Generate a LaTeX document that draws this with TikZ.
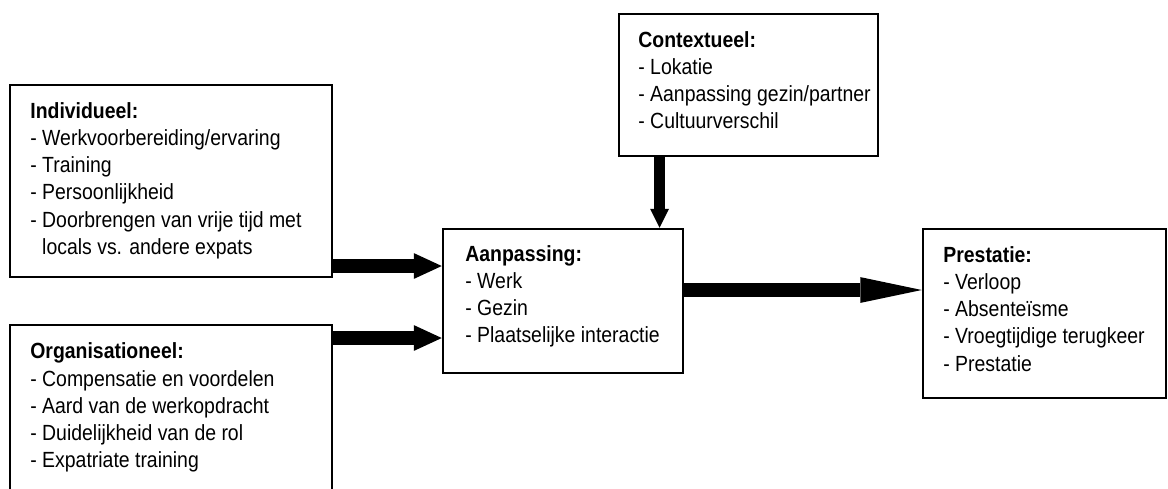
\documentclass[tikz,border=0pt]{standalone}
\usepackage{fontspec}
\setmainfont{Liberation Sans}[FakeStretch=0.885]
\usetikzlibrary{arrows.meta}
\tikzset{
    box/.style={draw, rectangle, line width=1.45pt, inner sep=0pt},
    txt/.style={anchor=north west, align=left, inner sep=0pt, font=\fontsize{12.5pt}{15.5pt}\selectfont}
}

\begin{document}
\begin{tikzpicture}[x=0.02cm, y=-0.02cm,
    sidearrow/.style={line width=8.5pt, -{Triangle[length=15.9pt, width=14.7pt, line width=0pt]}},
    downarrow/.style={line width=6.2pt, -{Triangle[length=10.8pt, width=10.8pt, line width=0pt]}},
    mainarrow/.style={line width=7.9pt, -{Triangle[length=35pt, width=14.7pt, line width=0pt]}}]

\useasboundingbox (0,0) rectangle (1168,488);

% boxes
\node [box, minimum width=6.44cm, minimum height=3.84cm] (ind) at (171,181) {};
\node [box, minimum width=6.44cm, minimum height=3.5cm] (org) at (171,412.5) {};
\node [box, minimum width=4.8cm, minimum height=2.88cm] (aan) at (563,301) {};
\node [box, minimum width=5.18cm, minimum height=2.84cm] (ctx) at (748.5,85) {};
\node [box, minimum width=4.86cm, minimum height=3.38cm] (pre) at (1044.5,313.5) {};

% texts
\node [txt] (indtxt) at (30,102) {\textbf{Individueel:}\\
    - Werkvoorbereiding/ervaring\\
    - Training\\
    - Persoonlijkheid\\
    - Doorbrengen van vrije tijd met\\
    \hphantom{- }locals vs. andere expats};
\node [txt] (orgtxt) at (30,342.5) {\textbf{Organisationeel:}\\
    - Compensatie en voordelen\\
    - Aard van de werkopdracht\\
    - Duidelijkheid van de rol\\
    - Expatriate training};
\node [txt] (aantxt) at (465,245) {\textbf{Aanpassing:}\\
    - Werk\\
    - Gezin\\
    - Plaatselijke interactie};
\node [txt] (ctxtxt) at (638,31) {\textbf{Contextueel:}\\
    - Lokatie\\
    - Aanpassing gezin/partner\\
    - Cultuurverschil};
\node [txt] (pretxt) at (943,246) {\textbf{Prestatie:}\\
    - Verloop\\
    - Absenteïsme\\
    - Vroegtijdige terugkeer\\
    - Prestatie};

% arrows
\coordinate (row1) at (0,266);
\coordinate (row2) at (0,338);
\coordinate (row3) at (0,290);
\coordinate (col1) at (659.5,0);

\draw [sidearrow] (ind.east |- row1) -- (aan.west |- row1);
\draw [sidearrow] (org.east |- row2) -- (aan.west |- row2);
\draw [downarrow] (ctx.south -| col1) -- (aan.north -| col1);
\draw [mainarrow] (aan.east |- row3) -- (pre.west |- row3);

\end{tikzpicture}
\end{document}
